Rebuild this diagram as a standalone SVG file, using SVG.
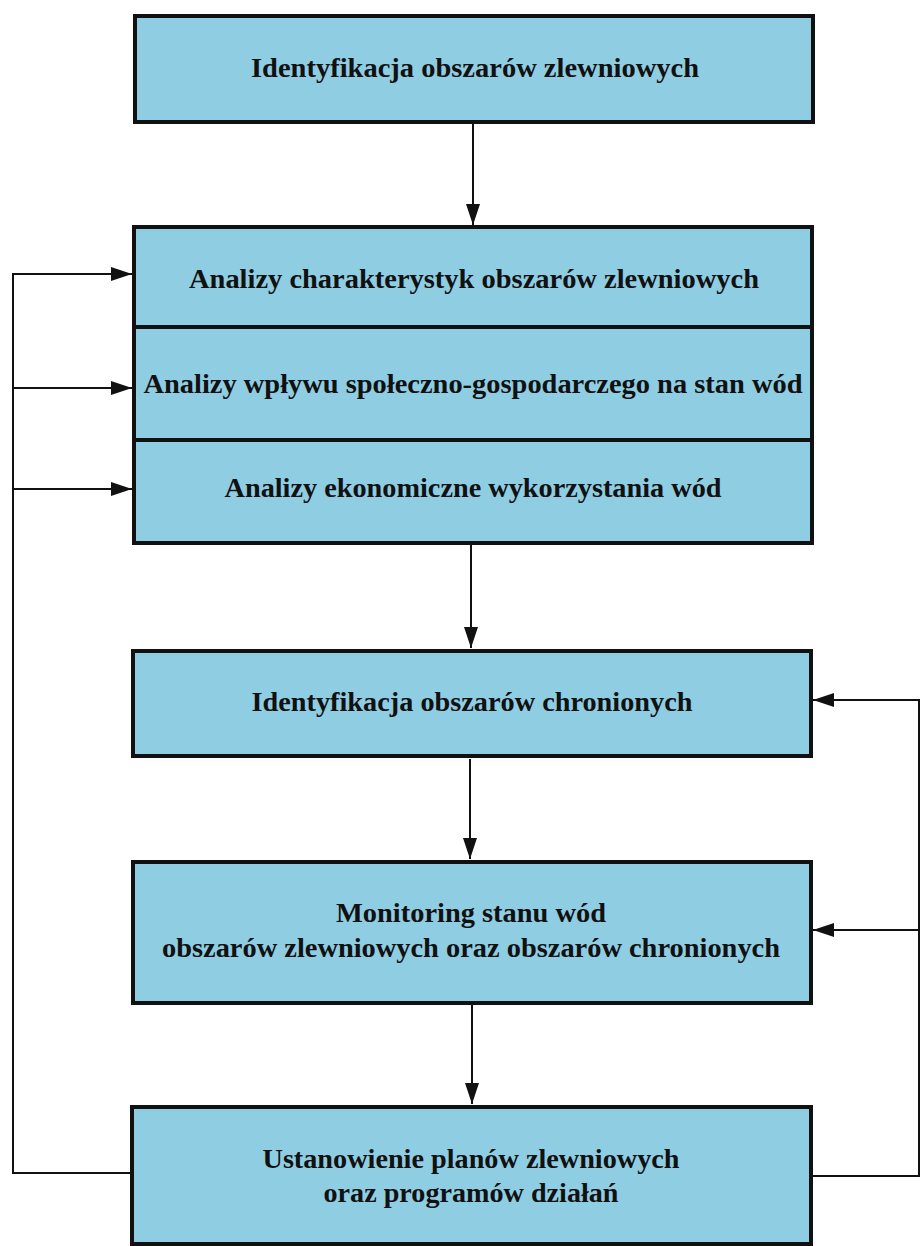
<svg xmlns="http://www.w3.org/2000/svg" width="921" height="1246" viewBox="0 0 921 1246">
<style>
.box{fill:#8fcde3;stroke:#111;stroke-width:4}
.div{stroke:#111;stroke-width:4}
.lbl{font-family:"Liberation Serif","Times New Roman",serif;font-weight:bold;font-size:28px;fill:#111;text-anchor:middle}
.con{fill:none;stroke:#111;stroke-width:2}
</style>
<defs>
<marker id="ah" markerUnits="userSpaceOnUse" markerWidth="22" markerHeight="16" refX="21" refY="8" orient="auto">
<path d="M0,1 L21,8 L0,15 Z" fill="#111"/>
</marker>
</defs>
<rect width="921" height="1246" fill="#fff"/>
<g id="connectors">
<line class="con" x1="473" y1="123" x2="473" y2="225" marker-end="url(#ah)"/>
<line class="con" x1="471" y1="545" x2="471" y2="648" marker-end="url(#ah)"/>
<line class="con" x1="470" y1="759" x2="470" y2="859" marker-end="url(#ah)"/>
<line class="con" x1="472" y1="1005" x2="472" y2="1104" marker-end="url(#ah)"/>
<polyline class="con" points="130,1173 13,1173 13,274"/>
<line class="con" x1="12" y1="274" x2="132" y2="274" marker-end="url(#ah)"/>
<line class="con" x1="13" y1="388" x2="132" y2="388" marker-end="url(#ah)"/>
<line class="con" x1="13" y1="489" x2="132" y2="489" marker-end="url(#ah)"/>
<polyline class="con" points="813,1176 919,1176 919,700"/>
<line class="con" x1="920" y1="700" x2="813" y2="700" marker-end="url(#ah)"/>
<line class="con" x1="919" y1="930" x2="813" y2="930" marker-end="url(#ah)"/>
</g>
<g id="n1">
<rect class="box" x="135" y="16" width="678" height="106"/>
<text class="lbl" x="475" y="77" textLength="448" lengthAdjust="spacingAndGlyphs">Identyfikacja obszarów zlewniowych</text>
</g>
<g id="n2">
<rect class="box" x="134" y="227" width="678" height="316"/>
<line class="div" x1="134" y1="327" x2="812" y2="327"/>
<line class="div" x1="134" y1="440" x2="812" y2="440"/>
<text class="lbl" x="474" y="288" textLength="570" lengthAdjust="spacingAndGlyphs">Analizy charakterystyk obszarów zlewniowych</text>
<text class="lbl" x="473" y="393" textLength="659" lengthAdjust="spacingAndGlyphs">Analizy wpływu społeczno-gospodarczego na stan wód</text>
<text class="lbl" x="473" y="497" textLength="497" lengthAdjust="spacingAndGlyphs">Analizy ekonomiczne wykorzystania wód</text>
</g>
<g id="n3">
<rect class="box" x="133" y="651" width="678" height="105"/>
<text class="lbl" x="472" y="711" textLength="441" lengthAdjust="spacingAndGlyphs">Identyfikacja obszarów chronionych</text>
</g>
<g id="n4">
<rect class="box" x="133" y="862" width="678" height="141"/>
<text class="lbl" x="471" y="922" textLength="270" lengthAdjust="spacingAndGlyphs">Monitoring stanu wód</text>
<text class="lbl" x="471" y="957" textLength="618" lengthAdjust="spacingAndGlyphs">obszarów zlewniowych oraz obszarów chronionych</text>
</g>
<g id="n5">
<rect class="box" x="132" y="1107" width="679" height="137"/>
<text class="lbl" x="471" y="1168" textLength="417" lengthAdjust="spacingAndGlyphs">Ustanowienie planów zlewniowych</text>
<text class="lbl" x="471" y="1202" textLength="295" lengthAdjust="spacingAndGlyphs">oraz programów działań</text>
</g>
</svg>
